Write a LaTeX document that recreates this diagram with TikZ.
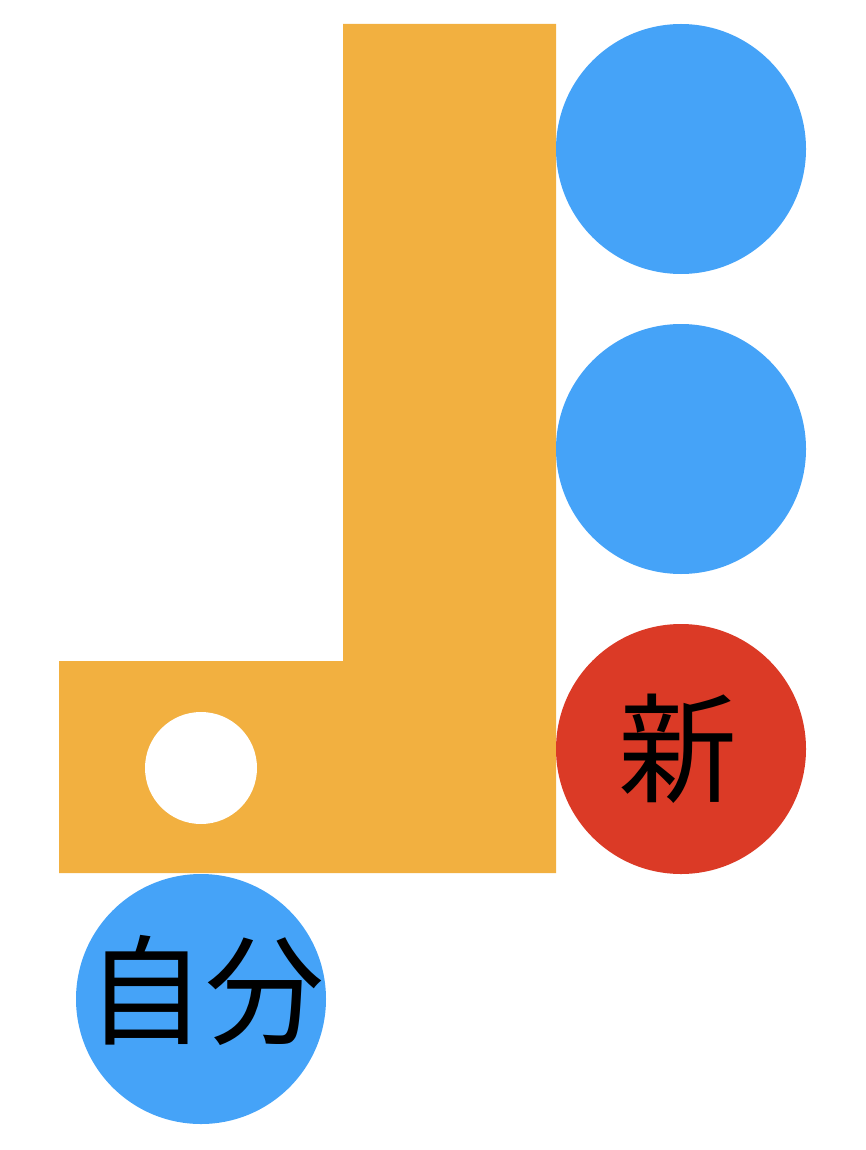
\documentclass[tikz,border=0pt]{standalone}
\usepackage{fontspec}
\newfontfamily\cjk{Noto Sans CJK JP}
\definecolor{lorange}{HTML}{F2B040}
\definecolor{lblue}{HTML}{45A3F8}
\definecolor{lred}{HTML}{DB3A26}
\tikzset{
  disc/.style={circle, minimum size=250pt, inner sep=0pt},
  big/.style={inner sep=0pt, font=\cjk\fontsize{119}{119}\selectfont, text=black},
}
\begin{document}
\begin{tikzpicture}[x=1pt,y=-1pt]
\useasboundingbox (0,0) rectangle (866,1150);
\fill[lorange] (343,24) -- (556,24) -- (556,873) -- (59,873) -- (59,661) -- (343,661) -- cycle;
\node[circle, fill=white, minimum size=112pt, inner sep=0pt] (hole) at (201,768) {};
\node[disc, fill=lblue] (c1) at (681,149) {};
\node[disc, fill=lblue] (c2) at (681,449) {};
\node[disc, fill=lred] (new) at (681,749) {};
\node[disc, fill=lblue] (self) at (201,999) {};
\node[big] (newtext) at (678,749) {新};
\node[big] (selftext) at (205,990) {自分};
\end{tikzpicture}
\end{document}
